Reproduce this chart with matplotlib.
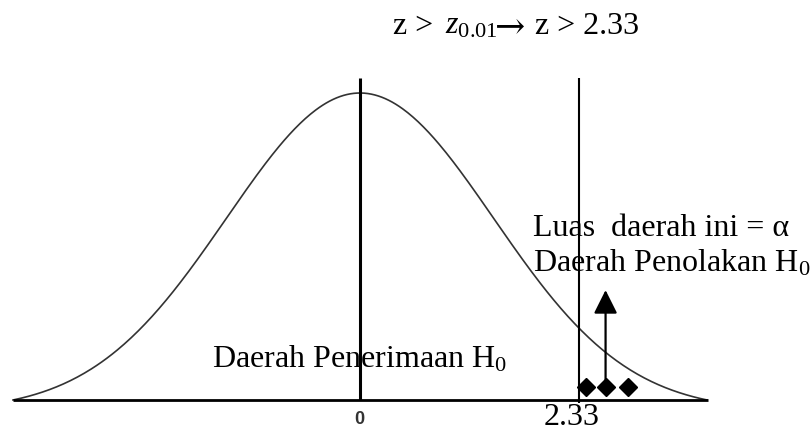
import numpy as np
import matplotlib

matplotlib.use("Agg")
import matplotlib.pyplot as plt

plt.rcParams["mathtext.fontset"] = "custom"
plt.rcParams["mathtext.rm"] = "Liberation Serif"
plt.rcParams["mathtext.it"] = "Liberation Serif:italic"

# schematic normal curve, drawn in z units (not to scale with the labels)
z_span = 2.6
z = np.linspace(-z_span, z_span, 400)
tail = np.exp(-z_span ** 2 / 2)
density = (np.exp(-z ** 2 / 2) - tail) / (1 - tail)

crit_pos = 1.64          # where the critical line sits in the sketch
crit_label = "2.33"
centre_label = "0"
arrow_x = 1.84
arrow_y = [0.065, 0.358]
diamond_x = [1.69, 1.84, 2.01]
diamond_y = [0.042, 0.042, 0.042]
line_top = 1.05

W, H = 812, 428
fig = plt.figure(figsize=(W / 100, H / 100), dpi=100)
ax = fig.add_axes([0, 0, 1, 1])
s = 2 * z_span / 694
ax.set_xlim(-360 * s, (W - 360) * s)
ax.set_ylim(-28 / 307, 400 / 307)
ax.axis("off")

ax.plot(z, density, color="#333333", lw=1.2)
ax.plot([-z_span, z_span + 0.005], [0, 0], color="black", lw=2.0,
        solid_capstyle="butt")
ax.plot([0, 0], [0, line_top], color="black", lw=2.2, solid_capstyle="butt")
ax.plot([crit_pos, crit_pos], [-0.01, line_top], color="black", lw=1.5,
        solid_capstyle="butt")
ax.annotate("", xy=(arrow_x, arrow_y[1]), xytext=(arrow_x, arrow_y[0]),
            arrowprops=dict(arrowstyle="-|>", color="black", lw=1.6,
                            mutation_scale=36, shrinkA=0, shrinkB=0))
ax.plot(diamond_x, diamond_y, "D", color="black", ms=9.3, ls="none")


def px(x, y):
    return x / W, 1 - y / H


serif = ["Liberation Serif", "DejaVu Serif"]
fs = 23
kw = dict(transform=fig.transFigure, family=serif, fontsize=fs,
          va="baseline")
# title built from pieces so the spacing follows the original
fig.text(*px(393, 34), "z >", ha="left", **kw)
fig.text(*px(445, 34), "$z_{0.01}$", ha="left", **kw)
fig.text(*px(495, 38), "→", ha="left", transform=fig.transFigure,
         family=["DejaVu Serif"], fontsize=26, va="baseline")
fig.text(*px(535, 34), "z > 2.33", ha="left", **kw)

fig.text(*px(533, 236), "Luas  daerah ini = α", ha="left", **kw)
fig.text(*px(533, 271), "Daerah Penolakan H$_0$", ha="left", **kw)
fig.text(*px(212, 367), "Daerah Penerimaan H$_0$", ha="left", **kw)
fig.text(*px(572, 425), crit_label, ha="center", **kw)
fig.text(*px(359, 424), centre_label, ha="center", va="baseline",
         transform=fig.transFigure, family="Liberation Sans",
         fontweight="bold", fontsize=13, color="#333333")

fig.savefig("out.png", dpi=100)
